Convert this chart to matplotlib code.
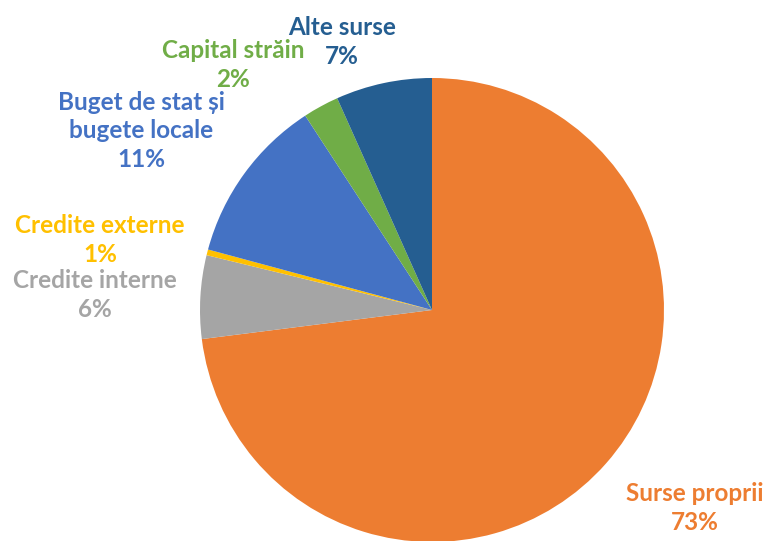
import matplotlib.pyplot as plt

# date (procente din grafic)
categorii = ['Surse proprii', 'Credite interne', 'Credite externe',
             'Buget de stat și\nbugete locale', 'Capital străin', 'Alte surse']
valori = [73.0, 5.8, 0.4, 11.6, 2.5, 6.7]
etichete_pct = ['73%', '6%', '1%', '11%', '2%', '7%']
culori = ['#ED7D31', '#A5A5A5', '#FFC000', '#4472C4', '#70AD47', '#255E91']

# pozitiile etichetelor (pixeli, de sus)
pozitii = [(695, 508), (95, 295), (100, 240), (141, 131), (233, 65), (342, 42)]

W, H = 768, 541

fig = plt.figure(figsize=(W / 100, H / 100), dpi=100)
ax = fig.add_axes([0, 0, 1, 1])

ax.pie(valori, colors=culori, startangle=90, counterclock=False,
       center=(432, H - 310), radius=232, frame=True,
       wedgeprops=dict(linewidth=0))
ax.set_xlim(0, W)
ax.set_ylim(0, H)
ax.set_aspect('equal')
ax.axis('off')

for cat, pct, col, (x, y) in zip(categorii, etichete_pct, culori, pozitii):
    ax.text(x, H - y, cat + '\n' + pct, color=col, ha='center', va='center',
            fontsize=17.5, fontweight='bold', family=['Lato', 'DejaVu Sans'],
            linespacing=1.3)

fig.savefig('out.png', dpi=100)
